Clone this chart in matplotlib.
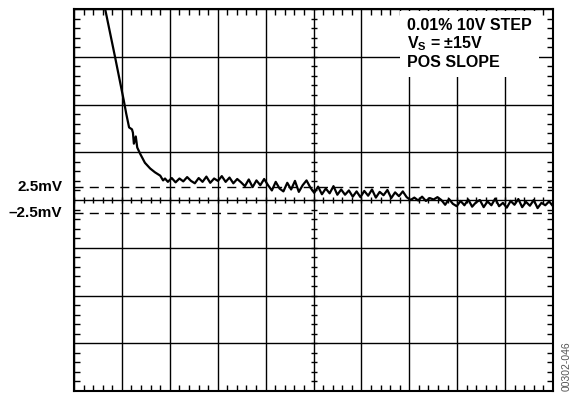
import numpy as np
import matplotlib.pyplot as plt

plt.rcParams['font.family'] = ['Liberation Sans', 'DejaVu Sans']
plt.rcParams['mathtext.fontset'] = 'custom'
plt.rcParams['mathtext.rm'] = 'Liberation Sans:bold'
plt.rcParams['mathtext.bf'] = 'Liberation Sans:bold'

# scope trace, x in time divisions, y in vertical divisions (0 = centre line)
edge_x = [0.00, 0.65, 0.86, 1.04, 1.09, 1.15, 1.21, 1.23, 1.25, 1.29, 1.32,
          1.38, 1.48, 1.59, 1.69, 1.80, 1.86, 1.90]
edge_y = [4.00, 4.00, 2.98, 2.08, 1.81, 1.52, 1.48, 1.41, 1.18, 1.33, 1.10,
          0.97, 0.78, 0.66, 0.58, 0.51, 0.41, 0.45]

settle_y = [0.38, 0.46, 0.37, 0.45, 0.39, 0.48, 0.40, 0.35, 0.46, 0.38,
            0.49, 0.36, 0.45, 0.40, 0.50, 0.38, 0.47, 0.35, 0.44,
            0.37, 0.29, 0.43, 0.27, 0.41, 0.31, 0.44,
            0.31, 0.20, 0.38, 0.24, 0.18, 0.36, 0.22, 0.40, 0.17, 0.31, 0.41,
            0.26, 0.15, 0.28, 0.12, 0.24, 0.14, 0.29, 0.11, 0.22,
            0.11, 0.20, 0.07, 0.18, 0.06, 0.19, 0.09, 0.22, 0.05, 0.17,
            0.10, 0.21, 0.04, 0.16, 0.08, 0.18,
            0.06, 0.00, 0.05, -0.01, 0.07, -0.02, 0.04, 0.01, 0.06,
            0.00, -0.10, 0.02, -0.08, -0.13, -0.02, -0.11, 0.01, -0.14, -0.05,
            0.00, -0.15, -0.03, -0.11, 0.03, -0.13, -0.06, -0.16, -0.02, -0.10,
            0.02, -0.15, -0.04, -0.12, 0.00, -0.17, -0.06, -0.11, -0.03, -0.13]
settle_x = np.linspace(1.96, 10.0, len(settle_y))  # sample time base

band = [0.27, -0.27]
band_labels = ['2.5mV', '\u20132.5mV']
note = ['0.01% 10V STEP', 'V$_\\mathregular{S}$ = \u00b115V', 'POS SLOPE']

fig = plt.figure(figsize=(5.79, 3.96), dpi=100)
ax = fig.add_axes([74 / 579, 5 / 396, 479 / 579, 382 / 396])
ax.set_xlim(0, 10)
ax.set_ylim(-4, 4)

# graticule
ax.set_xticks(np.arange(0, 11, 1))
ax.set_yticks(np.arange(-4, 5, 1))
ax.set_xticks(np.arange(0, 10.01, 0.2), minor=True)
ax.set_yticks(np.arange(-4, 4.01, 0.2), minor=True)
ax.grid(True, which='major', color='black', lw=1.0)
ax.tick_params(which='major', length=0, labelbottom=False, labelleft=False)
ax.tick_params(which='minor', direction='in', length=4, width=1.0,
               top=True, right=True)
for s in ax.spines.values():
    s.set_linewidth(1.5)

mx = np.arange(0, 10.01, 0.2)
my = np.arange(-4, 4.01, 0.2)
ax.plot(mx, np.zeros_like(mx), ls='', marker='|', ms=5, mew=1.0, color='black')
ax.plot(np.full_like(my, 5.0), my, ls='', marker='_', ms=5, mew=1.0, color='black')

for lvl, lab in zip(band, band_labels):
    ax.axhline(lvl, color='black', lw=1.0, dashes=(6.5, 4.5))
    ax.text(-0.25, lvl, lab, ha='right', va='center', fontsize=11,
            fontweight='bold', clip_on=False)

ax.plot(list(edge_x) + list(settle_x), list(edge_y) + list(settle_y),
        color='black', lw=1.6, zorder=5)

ax.text(6.95, 3.82, '\n'.join(note), ha='left', va='top', fontsize=11.5,
        fontweight='bold', linespacing=1.15,
        bbox=dict(facecolor='white', edgecolor='none', pad=5), zorder=6)

fig.text(0.978, 0.012, '00302-046', rotation=90, ha='center', va='bottom',
         fontsize=7.5, color='#555555')

fig.savefig('out.png', dpi=100)
